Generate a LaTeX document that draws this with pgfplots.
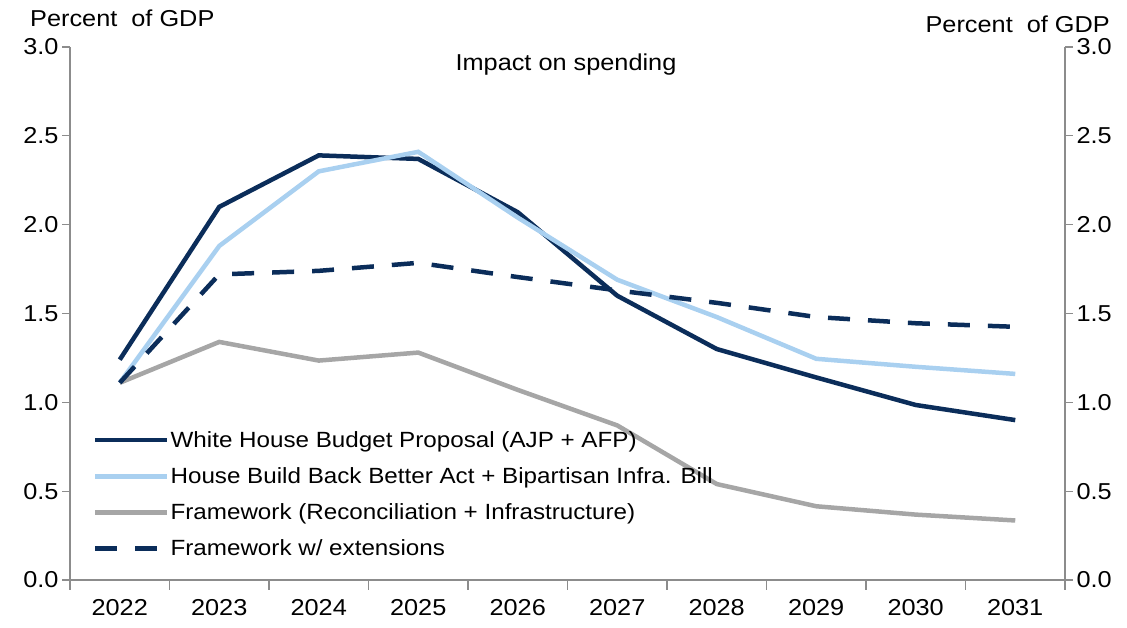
\documentclass[border=0pt]{standalone}
\usepackage{fontspec}
\setmainfont[FakeStretch=1.1]{Liberation Sans}
\usepackage{pgfplots}
\pgfplotsset{compat=1.18}
\definecolor{navy}{HTML}{0B2D5A}
\definecolor{lblue}{HTML}{A9D0F0}
\definecolor{lgray}{HTML}{A6A6A6}
\definecolor{axgray}{HTML}{8C8C8C}
\pgfplotsset{
  common/.style={
    at={(70pt,48pt)}, anchor=south west,
    scale only axis, width=995pt, height=533pt,
    xmin=2021.5, xmax=2031.5, ymin=0, ymax=3,
    axis line style={axgray, line width=1.3pt, -},
    tick align=outside,
    tick style={axgray, line width=1.3pt},
    major tick length=8pt, minor tick length=10pt,
    ytick={0,0.5,...,3},
    yticklabel style={/pgf/number format/.cd, fixed, fixed zerofill, precision=1},
    every tick label/.append style={font=\fontsize{23}{27}\selectfont, text=black},
    /pgf/number format/assume math mode=true,
  }
}
\begin{document}
\begin{tikzpicture}
\path[use as bounding box] (0,0) rectangle (1127pt,628pt);
\begin{axis}[common,
  axis x line*=bottom, axis y line*=left,
  xtick={2022,...,2031},
  xticklabels={2022,2023,2024,2025,2026,2027,2028,2029,2030,2031},
  major x tick style={draw=none},
  minor xtick={2021.5,2022.5,...,2031.5},
  xticklabel style={yshift=-8pt},
  legend style={at={(rel axis cs:0.02,0.285)}, anchor=north west, draw=none, fill=none,
    font=\fontsize{22}{26}\selectfont, row sep=16.8pt, nodes={inner sep=1pt, text=black}},
  legend cell align=left,
  legend image code/.code={\draw[#1] (0pt,0pt) -- (72pt,0pt);},
]
\addplot[navy, line width=4.5pt] coordinates {
(2022,1.24) (2023,2.10) (2024,2.39) (2025,2.37) (2026,2.07) (2027,1.60) (2028,1.30) (2029,1.14) (2030,0.985) (2031,0.90)};
\addlegendentry{White House Budget Proposal (AJP + AFP)}
\addplot[lblue, line width=4.5pt] coordinates {
(2022,1.11) (2023,1.88) (2024,2.30) (2025,2.41) (2026,2.04) (2027,1.69) (2028,1.48) (2029,1.245) (2030,1.20) (2031,1.16)};
\addlegendentry{House Build Back Better Act + Bipartisan Infra. Bill}
\addplot[lgray, line width=4.5pt] coordinates {
(2022,1.11) (2023,1.34) (2024,1.235) (2025,1.28) (2026,1.07) (2027,0.87) (2028,0.54) (2029,0.415) (2030,0.368) (2031,0.335)};
\addlegendentry{Framework (Reconciliation + Infrastructure)}
\addplot[navy, line width=4.5pt, dash pattern=on 22pt off 18pt] coordinates {
(2022,1.11) (2023,1.72) (2024,1.74) (2025,1.785) (2026,1.705) (2027,1.63) (2028,1.56) (2029,1.48) (2030,1.445) (2031,1.425)};
\addlegendentry{Framework w/ extensions}
\end{axis}
\begin{axis}[common,
  axis x line=none, axis y line*=right,
]
\addplot[draw=none] coordinates {(2022,0)};
\end{axis}
\node[anchor=west, font=\fontsize{23}{27}\selectfont, inner sep=0pt] at (30pt,610pt) {Percent\ \ of GDP};
\node[anchor=east, font=\fontsize{23}{27}\selectfont, inner sep=0pt] at (1110pt,604pt) {Percent\ \ of GDP};
\node[font=\fontsize{23}{27}\selectfont, inner sep=0pt] at (566pt,563pt) {Impact on spending};
\end{tikzpicture}
\end{document}
